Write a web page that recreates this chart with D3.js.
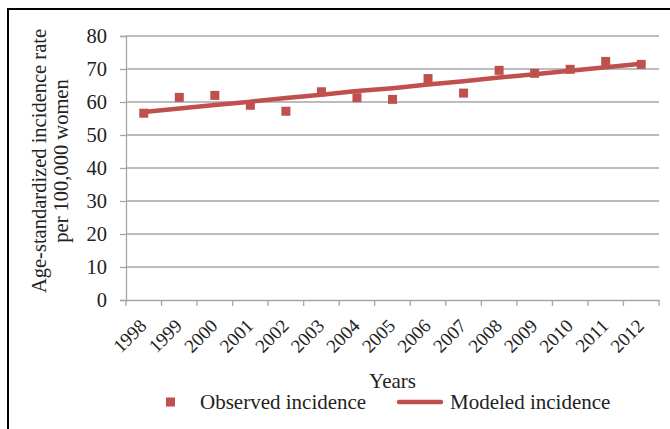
<!DOCTYPE html>
<html>
<head>
<meta charset="utf-8">
<script src="https://cdn.jsdelivr.net/npm/d3@7"></script>
<style>
  html, body { margin: 0; padding: 0; background: #fff; }
  svg { display: block; }
</style>
</head>
<body>
<script>
const years = ["1998","1999","2000","2001","2002","2003","2004","2005","2006","2007","2008","2009","2010","2011","2012"];
const observed = [56.6, 61.4, 62.0, 59.0, 57.2, 63.1, 61.3, 60.8, 67.1, 62.7, 69.6, 68.7, 69.9, 72.3, 71.4];
const modeled = [57.0, 58.0, 59.1, 60.1, 61.2, 62.2, 63.3, 64.2, 65.3, 66.3, 67.4, 68.4, 69.5, 70.5, 71.6];
const yTicks = [0, 10, 20, 30, 40, 50, 60, 70, 80];
const yTitle = ["Age-standardized incidence rate", "per 100,000 women"];
const xTitle = "Years";
const legendLabels = ["Observed incidence", "Modeled incidence"];

const W = 670, H = 429;
const red = "#C0504D", grid = "#A6A6A6", ink = "#222";
const FONT = "'Liberation Serif', 'Times New Roman', serif";
const pL = 126, pR = 659, pT = 36, pB = 300;

const svg = d3.select("body").append("svg").attr("width", W).attr("height", H)
  .style("font-family", FONT);

// outer border
svg.append("rect").attr("x", 8).attr("y", 9).attr("width", 720).attr("height", 520)
  .attr("fill", "none").attr("stroke", "#000").attr("stroke-width", 2);

const x = d3.scaleBand().domain(years).range([pL, pR]).padding(0);
const y = d3.scaleLinear().domain([0, 80]).range([pB, pT]);

// gridlines
svg.append("g").selectAll("line").data(yTicks.filter(d => d > 0)).join("line")
  .attr("x1", pL).attr("x2", pR)
  .attr("y1", d => y(d)).attr("y2", d => y(d))
  .attr("stroke", grid).attr("stroke-width", 1.3);

// y axis
const yAxis = svg.append("g").attr("transform", `translate(${pL},0)`)
  .call(d3.axisLeft(y).tickValues(yTicks).tickSize(6).tickPadding(13).tickFormat(d3.format("d")));
yAxis.attr("font-family", null).attr("font-size", null);
yAxis.select(".domain").attr("stroke", grid).attr("stroke-width", 1.3);
yAxis.selectAll(".tick line").attr("stroke", grid).attr("stroke-width", 1.3);
yAxis.selectAll(".tick text").style("font-family", FONT).style("font-size", "20.5px").attr("fill", ink);

// x axis
const xAxis = svg.append("g").attr("transform", `translate(0,${pB})`)
  .call(d3.axisBottom(x).tickSize(0).tickFormat(d => d));
xAxis.attr("font-family", null).attr("font-size", null);
xAxis.select(".domain").attr("stroke", grid).attr("stroke-width", 1.3);
xAxis.selectAll(".tick text")
  .style("font-family", FONT).style("font-size", "19px").attr("fill", ink)
  .attr("text-anchor", "end")
  .attr("transform", "translate(4,27) rotate(-45)")
  .attr("x", 0).attr("y", 0).attr("dy", 0);
// boundary ticks
const bounds = years.map(d => x(d)).concat([x(years[years.length - 1]) + x.bandwidth()]);
svg.append("g").selectAll("line").data(bounds).join("line")
  .attr("x1", d => d).attr("x2", d => d)
  .attr("y1", pB).attr("y2", pB + 6)
  .attr("stroke", grid).attr("stroke-width", 1.3);

const cx = d => x(d) + x.bandwidth() / 2;

// modeled line
const line = d3.line().x((d, i) => cx(years[i])).y(d => y(d));
svg.append("path").datum(modeled).attr("d", line)
  .attr("fill", "none").attr("stroke", red).attr("stroke-width", 4.5).attr("stroke-linecap", "round");

// observed squares
const s = 9;
svg.append("g").selectAll("rect").data(observed).join("rect")
  .attr("x", (d, i) => cx(years[i]) - s / 2)
  .attr("y", d => y(d) - s / 2)
  .attr("width", s).attr("height", s)
  .attr("fill", red);

// y title
const yt = svg.append("text")
  .attr("transform", `translate(46,161) rotate(-90)`)
  .attr("text-anchor", "middle").attr("fill", ink)
  .style("font-family", FONT).style("font-size", "20.5px");
yt.selectAll("tspan").data(yTitle).join("tspan")
  .attr("x", 0).attr("dy", (d, i) => i === 0 ? 0 : 22).text(d => d);

// x title
svg.append("text").attr("x", (pL + pR) / 2).attr("y", 388)
  .attr("text-anchor", "middle").attr("fill", ink)
  .style("font-family", FONT).style("font-size", "21px").text(xTitle);

// legend
svg.append("rect").attr("x", 166).attr("y", 397.5).attr("width", 9).attr("height", 9).attr("fill", red);
svg.append("text").attr("x", 200).attr("y", 409).attr("fill", ink)
  .style("font-family", FONT).style("font-size", "21px").text(legendLabels[0]);
svg.append("line").attr("x1", 399).attr("x2", 441).attr("y1", 402).attr("y2", 402)
  .attr("stroke", red).attr("stroke-width", 4.5).attr("stroke-linecap", "round");
svg.append("text").attr("x", 450).attr("y", 409).attr("fill", ink)
  .style("font-family", FONT).style("font-size", "21px").text(legendLabels[1]);
</script>
</body>
</html>
